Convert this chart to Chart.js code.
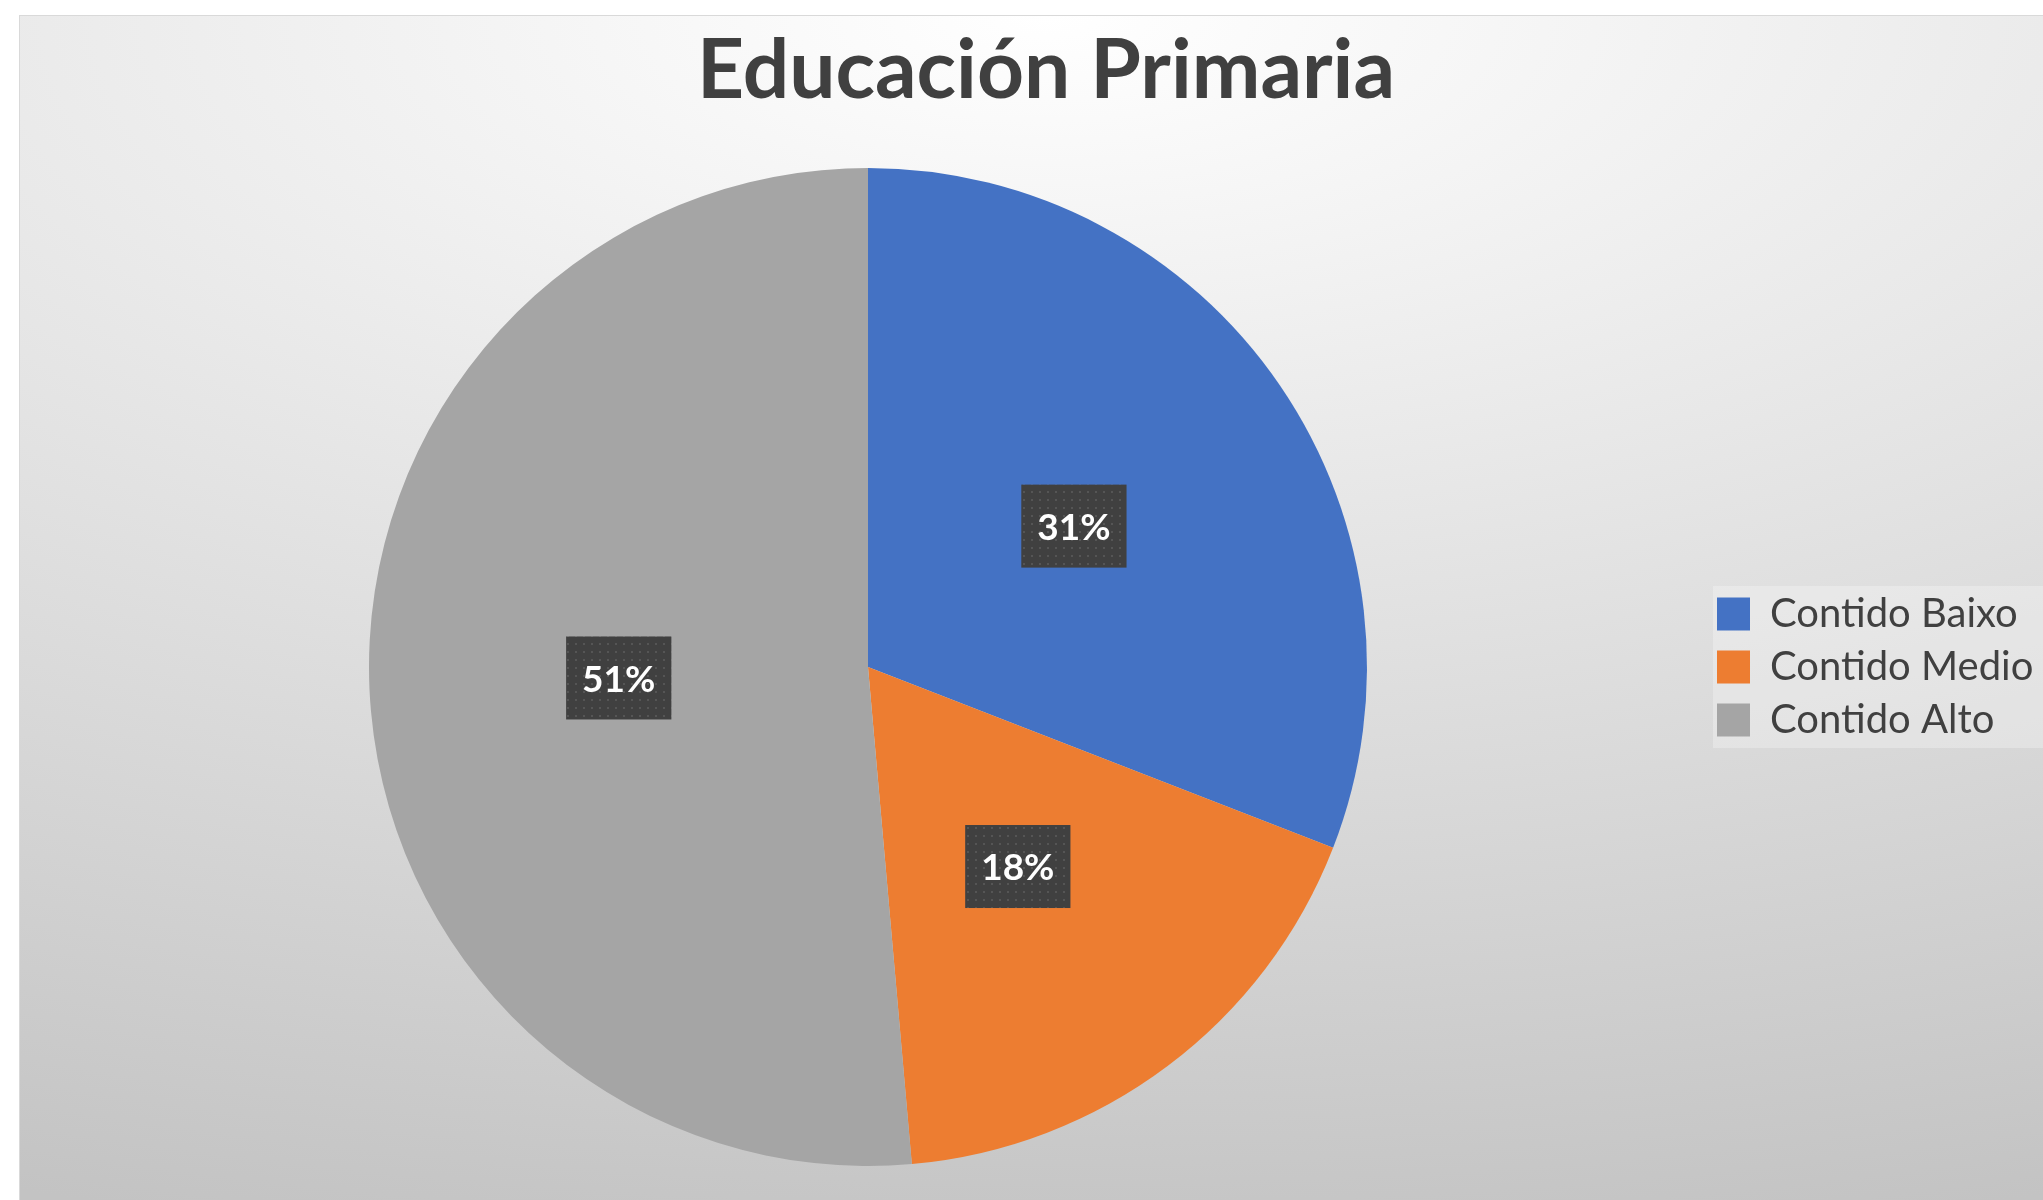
<!DOCTYPE html>
<html>
<head>
<meta charset="utf-8">
<script src="https://cdn.jsdelivr.net/npm/chart.js@4/dist/chart.umd.min.js"></script>
<style>
  html, body { margin: 0; padding: 0; background: #ffffff; overflow: hidden; }
  #card {
    position: absolute; left: 19px; top: 15px;
    width: 2052px; height: 1185px;
    border-top: 1px solid #d9d9d9; border-left: 1px solid #d9d9d9;
    background: radial-gradient(ellipse 3000px 1250px at 50% 0%, #ffffff 0%, #c3c3c3 100%);
  }
  #myChart { display: block; }
</style>
</head>
<body>
<div id="card"><canvas id="myChart" width="2052" height="1185"></canvas></div>
<script>
// datos do gráfico
const categorias = ['Contido Baixo', 'Contido Medio', 'Contido Alto'];
const valores    = [30.9, 17.7, 51.4];
const cores      = ['#4472C4', '#ED7D31', '#A5A5A5'];
const titulo     = 'Educación Primaria';

const fontFam = 'Lato, "Open Sans", sans-serif';
const legFont = 40, boxW = 33, legPad = 13;
const sidePad = legPad - 1;   // marxe esquerda e dereita iguais (título centrado)
const legZone = 356;          // lenda + espazo á dereita

// padrão de puntos para as etiquetas
const pat = document.createElement('canvas');
pat.width = 8; pat.height = 8;
const pctx = pat.getContext('2d');
pctx.fillStyle = '#404040';
pctx.fillRect(0, 0, 8, 8);
pctx.fillStyle = '#555555';
pctx.fillRect(3, 3, 2, 2);

/* caixa baleira á dereita da lenda, para deixar a torta no sitio */
const spacerBox = {
  position: 'right', weight: 2000, fullSize: false,
  options: { stackWeight: 1 },
  width: 0, height: 0, left: 0, top: 0, right: 0, bottom: 0,
  chart: null,
  isHorizontal() { return false; },
  update(maxW, maxH) {
    const lw = this.chart.legend ? this.chart.legend.width : 0;
    this.width = Math.max(0, legZone - lw);
    this.height = maxH;
  },
  draw() {}
};
const spacer = {
  id: 'spacer',
  beforeInit(chart) {
    spacerBox.chart = chart;
    Chart.layouts.addBox(chart, spacerBox);
  }
};

/* fondo claro detrás da lenda */
const legendBg = {
  id: 'legendBg',
  beforeDraw(chart) {
    const hb = chart.legend.legendHitBoxes;
    if (!hb || !hb.length) return;
    const c = chart.ctx;
    const top = hb[0].top - 8;
    const bottom = hb[hb.length - 1].top + hb[hb.length - 1].height + 8;
    c.save();
    c.fillStyle = 'rgba(255,255,255,0.28)';
    c.fillRect(hb[0].left - 4, top, chart.width - hb[0].left + 4, bottom - top);
    c.restore();
  }
};

/* etiquetas de porcentaxe */
const pctLabels = {
  id: 'pctLabels',
  afterDatasetsDraw(chart) {
    const c = chart.ctx;
    const meta = chart.getDatasetMeta(0);
    const total = valores.reduce((a, b) => a + b, 0);
    c.save();
    c.font = 'bold 37px ' + fontFam;
    c.textAlign = 'center';
    c.textBaseline = 'middle';
    meta.data.forEach((arc, i) => {
      const p = arc.getCenterPoint();
      const txt = Math.round(valores[i] / total * 100) + '%';
      const w = c.measureText(txt).width + 32;
      const h = 83;
      c.fillStyle = c.createPattern(pat, 'repeat');
      c.fillRect(p.x - w / 2, p.y - h / 2, w, h);
      c.fillStyle = '#ffffff';
      c.fillText(txt, p.x, p.y + 2);
    });
    c.restore();
  }
};

let ctx = document.getElementById('myChart').getContext('2d');
let myChart = new Chart(ctx, {
  type: 'pie',
  data: {
    labels: categorias,
    datasets: [{
      data: valores,
      backgroundColor: cores,
      borderWidth: 0
    }]
  },
  options: {
    responsive: false,
    animation: false,
    layout: { padding: { left: sidePad, right: sidePad, top: 0, bottom: 35 } },
    plugins: {
      title: {
        display: true,
        text: titulo,
        color: '#404040',
        font: { family: fontFam, size: 82, weight: 'bold', lineHeight: 1.2 },
        padding: { top: 6, bottom: 47.6 }
      },
      legend: {
        position: 'right',
        align: 'center',
        fullSize: false,
        labels: {
          color: '#404040',
          font: { family: fontFam, size: legFont },
          boxWidth: boxW,
          boxHeight: boxW,
          padding: legPad
        }
      },
      tooltip: { enabled: false }
    }
  },
  plugins: [spacer, legendBg, pctLabels]
});
</script>
</body>
</html>
